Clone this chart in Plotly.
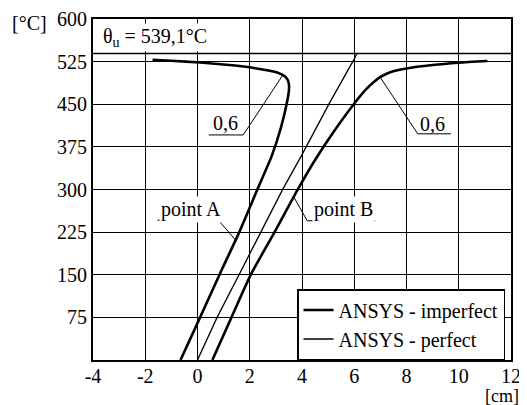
import plotly.graph_objects as go
import numpy as np

# ---- data ----
theta_u = 539.1

# ANSYS - imperfect, point A (x in cm, temperature in °C)
a_x = [-0.65, 0.1, 0.85, 1.6, 2.3, 2.85, 3.2, 3.42, 3.5, 3.5, 3.45, 3.35, 3.05, 2.5, 2.0, 1.0, 0.1, -1.0, -1.72]
a_t = [0, 75, 151, 225, 301, 360, 410, 452, 475, 485, 493, 499, 506, 511, 515, 520, 523.5, 526.5, 528]

# ANSYS - imperfect, point B
b_x = [0.57, 1.3, 2.05, 2.95, 3.85, 4.5, 5.22, 5.98, 6.45, 6.75, 7.0, 7.35, 8.0, 9.0, 10.0, 11.1]
b_t = [0, 75, 151, 225, 301, 352, 402, 450, 476, 489, 498, 506, 513, 519, 523, 526]

# ANSYS - perfect
p_x = [0.0, 0.75, 1.6, 2.42, 3.27, 3.95, 5.05, 5.98, 6.1]
p_t = [0, 75, 151, 225, 301, 357, 452, 528, 539.1]

x_ticks = [-4, -2, 0, 2, 4, 6, 8, 10, 12]
y_ticks = [75, 150, 225, 300, 375, 450, 525, 600]

FONT = "Liberation Serif, Times New Roman, DejaVu Serif, serif"
fs = 20

fig = go.Figure()
fig.add_trace(go.Scatter(x=a_x, y=a_t, mode="lines", name="ANSYS - imperfect",
                         line=dict(color="black", width=2.6, shape="spline", smoothing=0.6)))
fig.add_trace(go.Scatter(x=b_x, y=b_t, mode="lines", name="ANSYS - imperfect",
                         showlegend=False,
                         line=dict(color="black", width=2.6, shape="spline", smoothing=0.6)))
fig.add_trace(go.Scatter(x=p_x, y=p_t, mode="lines", name="ANSYS - perfect",
                         line=dict(color="black", width=1.3)))

# attachment points of the leaders on the curves
ya = 211
xa = float(np.interp(ya, a_t[:5], a_x[:5]))
yb = 287
xb = float(np.interp(yb, b_t, b_x))

shapes = [
    dict(type="line", xref="paper", x0=0, x1=1, yref="y", y0=theta_u, y1=theta_u,
         line=dict(color="black", width=1.5)),
    # point A leader
    dict(type="path", path=f"M -1.53,246 L 0.8,246 L {xa},{ya}",
         line=dict(color="black", width=1)),
    # point B leader
    dict(type="path", path=f"M 6.8,245 L 4.2,245 L {xb},{yb}",
         line=dict(color="black", width=1)),
    # 0,6 left leader
    dict(type="path", path="M 3.26,501 L 1.75,396 L 0.43,396",
         line=dict(color="black", width=1)),
    # 0,6 right leader
    dict(type="path", path="M 7.0,497 L 8.43,398 L 9.7,398",
         line=dict(color="black", width=1)),
]

theta_txt = f"θ<sub>u</sub> = {theta_u:.1f}".replace(".", ",") + "°C"

# page has an 8px body margin: figure is shifted by (8, 8)
OFF = 8
W, H = 527 - OFF, 405 - OFF
ml, mr, mt, mb = 93 - OFF, 16, 19 - OFF, 45
pw, ph = W - ml - mr, H - mt - mb


def px2paper(px, py):
    return (px - OFF - ml) / pw, ((H + OFF - mb) - py) / ph


cx, cy = px2paper(29, 23)
mx, my = px2paper(502, 396)
lx, ly = px2paper(297, 324.5)
tf = dict(family=FONT, size=fs, color="black")

annotations = [
    dict(x=-3.68, y=567, xref="x", yref="y", text=theta_txt, showarrow=False,
         xanchor="left", yanchor="middle", bgcolor="white", borderpad=1, font=tf),
    dict(x=-0.25, y=264, xref="x", yref="y", text="point A", showarrow=False,
         xanchor="center", yanchor="middle", bgcolor="white", borderpad=1, font=tf),
    dict(x=5.57, y=264, xref="x", yref="y", text="point B", showarrow=False,
         xanchor="center", yanchor="middle", bgcolor="white", borderpad=1, font=tf),
    dict(x=1.07, y=417, xref="x", yref="y", text="0,6", showarrow=False,
         xanchor="center", yanchor="middle", font=tf),
    dict(x=9.0, y=416, xref="x", yref="y", text="0,6", showarrow=False,
         xanchor="center", yanchor="middle", font=tf),
    dict(x=cx, y=cy, xref="paper", yref="paper", text="[°C]", showarrow=False,
         xanchor="center", yanchor="middle", font=tf),
    dict(x=mx, y=my, xref="paper", yref="paper", text="[cm]", showarrow=False,
         xanchor="center", yanchor="middle",
         font=dict(family=FONT, size=18, color="black")),
]

fig.update_layout(
    width=W, height=H,
    margin=dict(l=ml, r=mr, t=mt, b=mb, autoexpand=False),
    paper_bgcolor="white", plot_bgcolor="white",
    font=tf,
    shapes=shapes, annotations=annotations,
    legend=dict(x=lx, y=ly, xanchor="left", yanchor="middle",
                bgcolor="white", bordercolor="black", borderwidth=1.5,
                font=tf, itemwidth=30, tracegroupgap=0),
    xaxis=dict(range=[-4, 12], tickvals=x_ticks, ticktext=[str(v) for v in x_ticks],
               showgrid=True, gridcolor="black", gridwidth=1.2, zeroline=False,
               showline=True, linecolor="black", linewidth=1.8, mirror=True,
               automargin=False, ticks="", tickfont=tf, ticklabelstandoff=-3),
    yaxis=dict(range=[0, 600], tickvals=y_ticks, ticktext=[str(v) for v in y_ticks],
               showgrid=True, gridcolor="black", gridwidth=1.2, zeroline=False,
               showline=True, linecolor="black", linewidth=1.8, mirror=True,
               automargin=False, ticks="", tickfont=tf),
    showlegend=True,
)

fig.write_html("out.html")
